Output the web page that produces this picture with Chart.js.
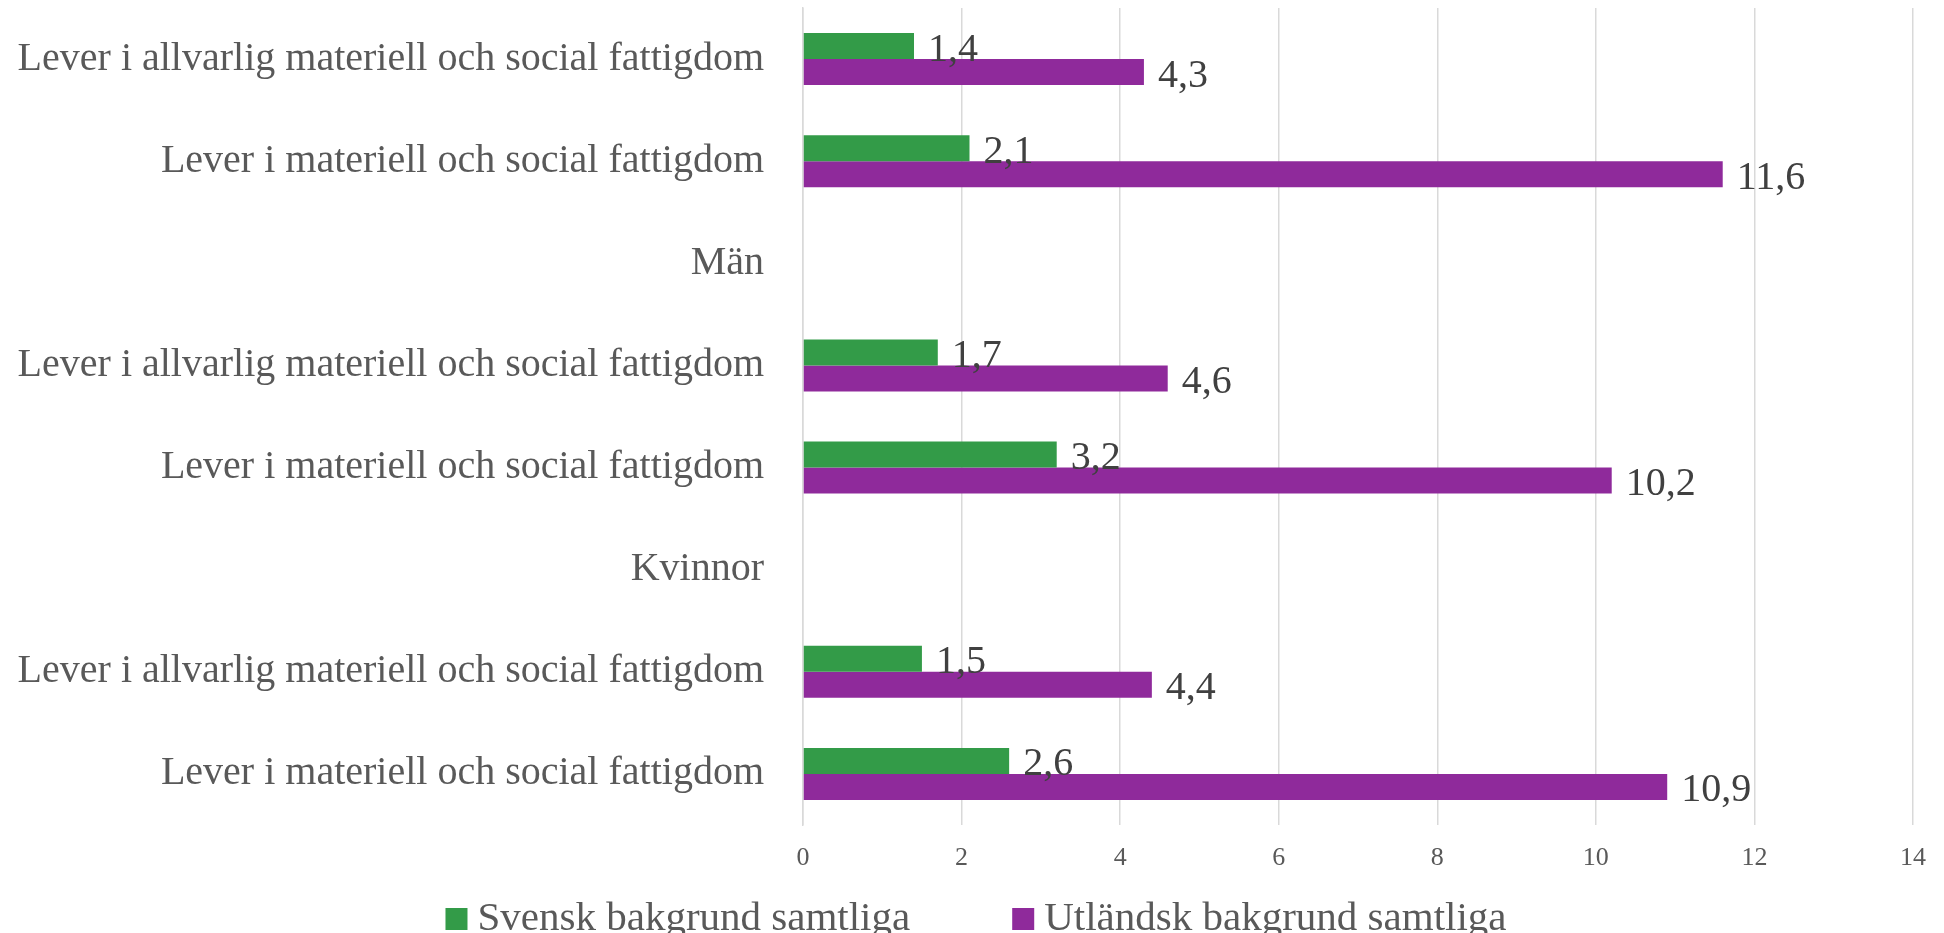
<!DOCTYPE html>
<html>
<head>
<meta charset="utf-8">
<script src="https://cdn.jsdelivr.net/npm/chart.js@4"></script>
<style>
    html, body { margin: 0; padding: 0; background: #fff; }
    #wrap { width: 1944px; height: 933px; }
</style>
</head>
<body>
<div id="wrap"><canvas id="poverty"></canvas></div>
<script>
const categories = [
    'Lever i allvarlig materiell och social fattigdom',
    'Lever i materiell och social fattigdom',
    'Män',
    'Lever i allvarlig materiell och social fattigdom',
    'Lever i materiell och social fattigdom',
    'Kvinnor',
    'Lever i allvarlig materiell och social fattigdom',
    'Lever i materiell och social fattigdom'
];
const svensk = [1.4, 2.1, null, 1.7, 3.2, null, 1.5, 2.6];
const utlandsk = [4.3, 11.6, null, 4.6, 10.2, null, 4.4, 10.9];
const seriesNames = ['Svensk bakgrund samtliga', 'Utländsk bakgrund samtliga'];
const xTicks = [0, 2, 4, 6, 8, 10, 12, 14];

const serif = '"Liberation Serif", "Times New Roman", serif';
const chartEl = document.getElementById('poverty');

// värdeetiketter vid stapelns slut
const valueLabels = {
    id: 'valueLabels',
    afterDatasetsDraw(chart) {
        const ctx = chart.ctx;
        ctx.save();
        ctx.font = '40px ' + serif;
        ctx.fillStyle = '#404040';
        ctx.textAlign = 'left';
        ctx.textBaseline = 'middle';
        chart.data.datasets.forEach((ds, i) => {
            const meta = chart.getDatasetMeta(i);
            meta.data.forEach((bar, j) => {
                const v = ds.data[j];
                if (v === null) return;
                ctx.fillText(String(v).replace('.', ','), bar.x + 14, bar.y + 4);
            });
        });
        ctx.restore();
    }
};

// egen legend under diagrammet
const bottomLegend = {
    id: 'bottomLegend',
    afterDraw(chart) {
        const ctx = chart.ctx;
        const box = 22, gap = 10, between = 102;
        ctx.save();
        ctx.font = '41px ' + serif;
        const widths = chart.data.datasets.map(ds => box + gap + ctx.measureText(ds.label).width);
        const total = widths.reduce((a, b) => a + b, 0) + between * (widths.length - 1);
        let x = (chart.width - total) / 2 + 4;
        const y = 919;
        chart.data.datasets.forEach((ds, i) => {
            ctx.fillStyle = ds.backgroundColor;
            ctx.fillRect(x, y - box / 2, box, box);
            ctx.fillStyle = '#595959';
            ctx.textAlign = 'left';
            ctx.textBaseline = 'middle';
            ctx.fillText(ds.label, x + box + gap, y);
            x += widths[i] + between;
        });
        ctx.restore();
    }
};

function povertyChart(labels, { first, second }) {
    new Chart(chartEl, {
        type: 'bar',
        data: {
            labels: labels,
            datasets: [{
                label: seriesNames[0],
                data: first,
                backgroundColor: '#339B48',
                categoryPercentage: 0.51,
                barPercentage: 1
            }, {
                label: seriesNames[1],
                data: second,
                backgroundColor: '#8F2A9B',
                categoryPercentage: 0.51,
                barPercentage: 1
            }]
        },
        options: {
            indexAxis: 'y',
            responsive: true,
            maintainAspectRatio: false,
            animation: false,
            layout: { padding: { top: 8, right: 25, left: 0, bottom: 0 } },
            plugins: {
                legend: { display: false },
                tooltip: { enabled: false }
            },
            scales: {
                x: {
                    min: 0,
                    max: 14,
                    afterBuildTicks: (s) => { s.ticks = xTicks.map(v => ({ value: v })); },
                    afterFit: (s) => { s.height = 108; },
                    grid: { color: '#d9d9d9', lineWidth: 1.5, drawTicks: false },
                    border: { display: false },
                    ticks: {
                        padding: 18,
                        color: '#595959',
                        font: { family: serif, size: 26 }
                    }
                },
                y: {
                    afterFit: (s) => {
                        s.width = 803;
                        s.paddingTop = 0;
                        s.paddingBottom = 0;
                    },
                    grid: { display: false },
                    border: { color: '#d9d9d9', width: 1.5 },
                    ticks: {
                        autoSkip: false,
                        padding: 31,
                        color: '#595959',
                        font: { family: serif, size: 40 }
                    }
                }
            }
        },
        plugins: [valueLabels, bottomLegend]
    });
}

povertyChart(categories, { first: svensk, second: utlandsk });
</script>
</body>
</html>
